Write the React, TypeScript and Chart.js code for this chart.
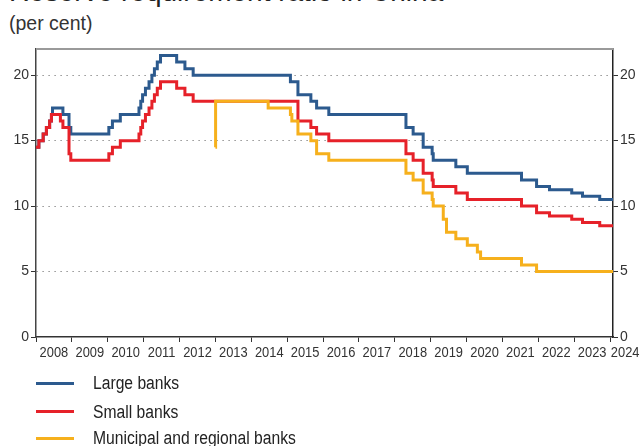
import React, { useEffect, useRef } from 'react';
import { Chart, registerables } from 'chart.js';

Chart.register(...registerables);

// ---- Data ----
const yearTicks = [2008, 2009, 2010, 2011, 2012, 2013, 2014, 2015, 2016, 2017, 2018, 2019, 2020, 2021, 2022, 2023, 2024];
const yearLabels = ['2008', '2009', '2010', '2011', '2012', '2013', '2014', '2015', '2016', '2017', '2018', '2019', '2020', '2021', '2022', '2023', '2024'];
const valueTicks = [0, 5, 10, 15, 20];

const largeDates = [2008.0, 2008.08, 2008.2, 2008.29, 2008.38, 2008.43, 2008.46, 2008.75, 2008.92, 2008.97, 2010.03, 2010.13, 2010.35, 2010.87, 2010.92, 2010.97, 2011.05, 2011.15, 2011.23, 2011.3, 2011.38, 2011.47, 2011.92, 2012.15, 2012.38, 2015.09, 2015.3, 2015.66, 2015.82, 2016.16, 2018.31, 2018.51, 2018.79, 2019.04, 2019.07, 2019.7, 2020.02, 2021.53, 2021.95, 2022.31, 2022.93, 2023.23, 2023.71, 2024.08];
const largeValues = [14.5, 15, 15.5, 16, 16.5, 17, 17.5, 17, 16, 15.5, 16, 16.5, 17, 17.5, 18, 18.5, 19, 19.5, 20, 20.5, 21, 21.5, 21, 20.5, 20, 19.5, 18.5, 18, 17.5, 17, 16, 15.5, 14.5, 14, 13.5, 13, 12.5, 12, 11.5, 11.25, 11, 10.75, 10.5, 10.5];

const smallDates = [2008.0, 2008.08, 2008.2, 2008.29, 2008.38, 2008.43, 2008.68, 2008.75, 2008.92, 2008.97, 2010.03, 2010.13, 2010.35, 2010.87, 2010.92, 2010.97, 2011.05, 2011.15, 2011.23, 2011.3, 2011.38, 2011.47, 2011.92, 2012.15, 2012.38, 2015.3, 2015.66, 2015.82, 2016.16, 2018.31, 2018.51, 2018.79, 2019.04, 2019.07, 2019.7, 2020.02, 2021.53, 2021.95, 2022.31, 2022.93, 2023.23, 2023.71, 2024.08];
const smallValues = [14.5, 15, 15.5, 16, 16.5, 17, 16.5, 16, 14, 13.5, 14, 14.5, 15, 15.5, 16, 16.5, 17, 17.5, 18, 18.5, 19, 19.5, 19, 18.5, 18, 16.5, 16, 15.5, 15, 14, 13.5, 12.5, 12, 11.5, 11, 10.5, 10, 9.5, 9.25, 9, 8.75, 8.5, 8.5];

const municipalDates = [2013.0, 2013.005, 2014.47, 2015.09, 2015.13, 2015.3, 2015.66, 2015.82, 2016.16, 2018.31, 2018.51, 2018.79, 2019.04, 2019.07, 2019.35, 2019.44, 2019.7, 2020.02, 2020.3, 2020.39, 2021.53, 2021.95, 2024.08];
const municipalValues = [14.5, 18, 17.5, 17, 16.5, 15.5, 15, 14, 13.5, 12.5, 12, 11, 10.5, 10, 9, 8, 7.5, 7, 6.5, 6, 5.5, 5, 5];

const seriesNames = ['Large banks', 'Small banks', 'Municipal and regional banks'];
const seriesColors = ['#2c5a8e', '#e62129', '#f6b01c'];

const X_MIN = 2008;
const X_MAX = 2024.08;
const Y_MIN = 0;
const Y_MAX = 22;

const CANVAS_W = 640;
const CANVAS_H = 372;
const FONT = '"Liberation Sans", Arial, Helvetica, sans-serif';

const toPoints = (dates: number[], values: number[]) => dates.map((d, i) => ({ x: d, y: values[i] }));

const decorPlugin = {
  id: 'decor',
  afterDraw(chart: any) {
    const { ctx, chartArea, scales } = chart;
    const xs = scales.x;
    ctx.save();
    ctx.strokeStyle = '#9a9a9a';
    ctx.lineWidth = 2;
    ctx.beginPath();
    ctx.moveTo(chartArea.left, chartArea.top);
    ctx.lineTo(chartArea.right, chartArea.top);
    ctx.stroke();

    const sx = 0.92;
    ctx.font = `14px ${FONT}`;
    ctx.fillStyle = '#333';
    ctx.textAlign = 'center';
    ctx.textBaseline = 'middle';
    yearLabels.forEach((lab, i) => {
      const w = ctx.measureText(lab).width * sx;
      let px = xs.getPixelForValue(yearTicks[i] + 0.5);
      px = Math.min(px, chart.width - w / 2 - 0.5);
      ctx.save();
      ctx.translate(px, chartArea.bottom + 16);
      ctx.scale(sx, 1);
      ctx.fillText(lab, 0, 0);
      ctx.restore();
    });
    ctx.restore();
  },
};

function ChartCanvas() {
  const ref = useRef<HTMLCanvasElement | null>(null);
  useEffect(() => {
    if (!ref.current) return;
    const yTicksFn = (scale: any) => {
      scale.ticks = valueTicks.map((v) => ({ value: v }));
    };
    const chart = new Chart(ref.current, {
      type: 'line',
      data: {
        datasets: [
          {
            label: seriesNames[0],
            data: toPoints(largeDates, largeValues),
            borderColor: seriesColors[0],
            order: 3,
          },
          {
            label: seriesNames[1],
            data: toPoints(smallDates, smallValues),
            borderColor: seriesColors[1],
            order: 2,
          },
          {
            label: seriesNames[2],
            data: toPoints(municipalDates, municipalValues),
            borderColor: seriesColors[2],
            order: 1,
          },
        ].map((d) => ({
          ...d,
          stepped: true,
          borderWidth: 3,
          pointRadius: 0,
          fill: false,
          tension: 0,
          yAxisID: 'y',
          xAxisID: 'x',
        })) as any,
      },
      options: {
        animation: false,
        responsive: false,
        maintainAspectRatio: false,
        devicePixelRatio: 1,
        layout: { padding: { top: 49, left: 0, right: 0, bottom: 0 } },
        plugins: { legend: { display: false }, tooltip: { enabled: false } },
        scales: {
          x: {
            type: 'linear',
            position: 'bottom',
            min: X_MIN,
            max: X_MAX,
            afterBuildTicks: (scale: any) => {
              scale.ticks = yearTicks.map((v) => ({ value: v }));
            },
            afterFit: (scale: any) => {
              scale.height = CANVAS_H - 337;
            },
            ticks: { callback: () => '', autoSkip: false, maxRotation: 0 },
            grid: { drawOnChartArea: false, drawTicks: true, tickLength: 5, tickColor: '#333', tickWidth: 1 },
            border: { color: '#333', width: 1.5 },
          },
          y: {
            type: 'linear',
            position: 'left',
            min: Y_MIN,
            max: Y_MAX,
            afterBuildTicks: yTicksFn,
            afterFit: (scale: any) => {
              scale.width = 36;
            },
            ticks: { font: { family: FONT, size: 14 }, color: '#333', padding: 2 },
            grid: {
              color: (c: any) => (c.tick && c.tick.value === 0 ? 'rgba(0,0,0,0)' : '#777'),
              lineWidth: 1,
              tickLength: 5,
              tickColor: '#333',
              tickWidth: 1,
            },
            border: { color: '#444', width: 1.5, dash: [1.2, 4.8] },
          },
          y2: {
            type: 'linear',
            position: 'right',
            min: Y_MIN,
            max: Y_MAX,
            afterBuildTicks: yTicksFn,
            afterFit: (scale: any) => {
              scale.width = 27;
            },
            ticks: { font: { family: FONT, size: 14 }, color: '#333', padding: 2 },
            grid: { drawOnChartArea: false, tickLength: 5, tickColor: '#333', tickWidth: 1 },
            border: { color: '#222', width: 1.5 },
          },
        },
      },
      plugins: [decorPlugin],
    } as any);
    return () => chart.destroy();
  }, []);
  return (
    <canvas
      ref={ref}
      width={CANVAS_W}
      height={CANVAS_H}
      style={{ position: 'absolute', left: 0, top: 0, width: CANVAS_W, height: CANVAS_H }}
    />
  );
}

export default function App() {
  const legendY = [383, 411.5, 438];
  return (
    <div
      style={{
        position: 'fixed',
        left: 0,
        top: 0,
        width: 640,
        height: 446,
        overflow: 'hidden',
        background: '#fff',
      }}
    >
      <div
        style={{
          position: 'absolute',
          left: 9,
          top: -22,
          fontFamily: FONT,
          fontSize: 28,
          lineHeight: '28px',
          color: '#222',
          whiteSpace: 'nowrap',
        }}
      >
        Reserve requirement ratio in China
      </div>
      <div
        style={{
          position: 'absolute',
          left: 9,
          top: 12,
          fontFamily: FONT,
          fontSize: 19.5,
          lineHeight: '22px',
          color: '#333',
          whiteSpace: 'nowrap',
        }}
      >
        (per cent)
      </div>
      <ChartCanvas />
      {seriesNames.map((name, i) => (
        <div key={name} style={{ position: 'absolute', left: 0, top: legendY[i] - 12, height: 24, width: 640 }}>
          <div
            style={{
              position: 'absolute',
              left: 36,
              top: 10.5,
              width: 38,
              height: 3,
              background: seriesColors[i],
            }}
          />
          <div
            style={{
              position: 'absolute',
              left: 93,
              top: 0,
              fontFamily: FONT,
              fontSize: 18,
              lineHeight: '24px',
              color: '#222',
              whiteSpace: 'nowrap',
              transform: 'scaleX(0.87)',
              transformOrigin: '0 50%',
            }}
          >
            {name}
          </div>
        </div>
      ))}
    </div>
  );
}
